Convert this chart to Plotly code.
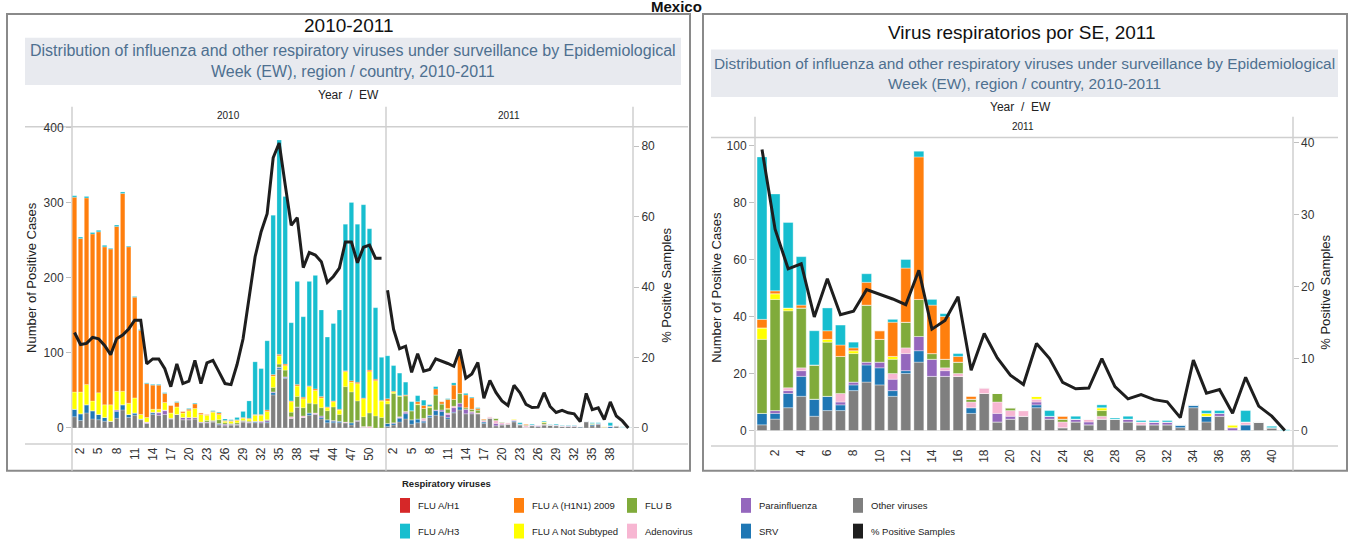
import plotly.graph_objects as go

# ---------------- DATA ----------------
weeks_2010 = list(range(1, 53))
weeks_2011 = list(range(1, 42))

other_2010 = [15,10,20,12,11,9,9,13,24,14,17,11,6,18,17,18,12,18,11,11,12,7,7,8,4,3,4,4,8,7,7,7,7,44,78,66,13,28,14,17,18,12,7,7,7,7,4,9,1,0,0,0]
srv_2010 = [10,9,11,11,7,5,0,9,7,4,3,1,0,2,0,0,0,0,0,0,0,0,0,0,1,0,0,0,0,0,1,0,1,3,2,1,0,0,0,3,0,2,4,2,2,0,3,0,0,0,0,0]
para_2010 = [0,0,0,0,0,0,0,2,0,0,0,0,1,1,3,5,1,0,3,3,2,1,1,1,1,2,1,1,1,1,1,2,2,1,1,1,0,0,0,0,1,2,0,1,0,0,0,1,0,0,0,0]
adeno_2010 = [0,0,0,0,0,0,0,0,0,0,0,0,1,0,1,1,0,0,0,0,0,0,0,0,0,0,0,0,0,0,0,0,0,0,0,0,2,0,2,0,1,0,0,0,0,1,0,0,1,2,0,0]
flub_2010 = [0,0,0,0,0,0,0,0,0,0,0,0,0,0,0,0,0,0,0,0,0,0,2,1,5,2,1,2,1,1,0,0,1,6,4,9,6,14,11,13,12,11,12,18,9,47,41,26,13,18,16,14]
notsub_2010 = [23,29,27,13,29,17,22,25,18,15,20,6,6,4,4,10,7,10,6,9,12,10,7,11,7,2,3,3,3,3,8,8,11,15,11,6,14,14,12,22,18,13,4,7,6,20,13,23,24,55,47,22]
h1_2010 = [0]*52
h1n1_2010 = [259,204,248,222,214,210,207,219,263,208,134,112,45,32,32,12,10,6,2,2,6,2,1,1,2,1,1,1,1,1,1,1,2,2,2,2,1,2,2,1,2,2,1,1,1,1,2,2,1,2,2,1]
h3_2010 = [2,2,2,2,2,2,1,2,2,1,1,1,1,1,1,1,0,1,0,1,1,0,0,1,1,2,1,3,8,23,70,61,92,212,285,223,104,137,107,139,151,115,93,103,132,195,237,210,257,188,95,57]
pct_2010 = [27.1,23.7,24.0,25.7,25.3,23.4,20.8,25.3,26.4,28.1,30.6,30.6,18.2,19.6,19.6,16.8,11.7,18.2,12.6,13.3,19.2,12.6,18.5,19.2,15.9,12.6,12.3,18.0,25.3,37.4,48.6,55.7,60.8,76.7,80.9,69.0,57.5,59.7,45.5,49.8,49.1,47.2,41.3,43.0,45.4,52.8,52.8,46.9,51.3,51.9,48.2,48.2]

other_2011 = [2,4,8,12,5,7,7,14,17,16,12,20,24,19,19,19,6,13,3,4,5,8,4,1,3,2,4,4,3,2,2,2,1,8,3,5,0,0,3,1,0]
srv_2011 = [4,2,5,7,6,5,2,2,6,6,2,1,4,0,0,0,2,0,0,0,0,1,0,0,0,0,0,0,0,0,0,0,1,1,2,0,0,2,0,0,0]
para_2011 = [0,1,1,2,0,0,1,1,1,2,4,6,5,6,2,0,0,0,3,1,0,1,1,0,1,1,0,0,1,0,1,1,0,0,0,1,1,0,0,0,0]
adeno_2011 = [0,0,1,1,0,0,3,0,0,0,2,2,0,0,1,1,2,2,4,2,2,1,0,2,0,1,1,0,0,1,0,0,0,0,0,0,0,1,0,0,0]
flub_2011 = [26,39,27,21,12,19,13,10,20,8,5,9,13,2,3,4,1,0,3,1,0,0,0,1,0,0,2,0,0,0,0,0,0,0,0,0,0,0,0,0,0]
notsub_2011 = [4,2,1,0,0,1,0,1,0,0,1,0,0,0,0,0,0,0,0,0,0,1,0,0,0,0,1,0,0,0,0,0,0,0,1,0,1,0,0,0,0]
h1_2011 = [0]*41
h1n1_2011 = [3,1,0,1,0,3,4,1,8,3,12,19,50,17,15,2,1,0,0,0,0,0,0,1,0,0,0,0,0,0,0,0,0,0,0,0,0,0,0,0,0]
h3_2011 = [57,34,30,17,12,8,7,2,3,0,1,3,2,2,1,1,0,0,0,0,0,0,2,0,1,0,1,0.4,1,0.5,0.5,0.5,0,0,1,1,0,4,0,0.5,0.3]
pct_2011 = [39.1,28.0,22.5,23.2,15.8,21.1,16.1,16.6,19.6,19.0,18.3,17.5,22.3,14.1,15.3,18.6,8.4,13.5,10.1,7.7,6.4,12.1,10.0,6.7,5.8,5.9,10.0,6.1,4.4,5.0,4.3,4.0,1.8,9.8,5.2,5.7,2.4,7.4,3.4,2.0,0.0]

ticks_left_2010 = list(range(2, 51, 3))
ticks_left_2011 = list(range(2, 39, 3))
ticks_right_2011 = list(range(2, 41, 2))

# stacking order bottom -> top
series = [
    ("Other viruses", other_2010, other_2011, "#7f7f7f"),
    ("SRV", srv_2010, srv_2011, "#1f77b4"),
    ("Parainfluenza", para_2010, para_2011, "#9467bd"),
    ("Adenovirus", adeno_2010, adeno_2011, "#f7b6d2"),
    ("FLU B", flub_2010, flub_2011, "#80ab3b"),
    ("FLU A Not Subtyped", notsub_2010, notsub_2011, "#ffff00"),
    ("FLU A/H1", h1_2010, h1_2011, "#d62728"),
    ("FLU A (H1N1) 2009", h1n1_2010, h1n1_2011, "#ff7f0e"),
    ("FLU A/H3", h3_2010, h3_2011, "#17becf"),
]
line_name = "% Positive Samples"
line_color = "#1e1e1e"

legend_rows = [
    ["FLU A/H1", "FLU A (H1N1) 2009", "FLU B", "Parainfluenza", "Other viruses"],
    ["FLU A/H3", "FLU A Not Subtyped", "Adenovirus", "SRV", "% Positive Samples"],
]

# ---------------- FIGURE ----------------
W, H = 1355, 540
def X(p): return p / W
def Y(p): return 1 - p / H

FONT = "Liberation Sans, Arial, sans-serif"

x_left = weeks_2010 + [52 + w for w in weeks_2011]

fig = go.Figure()
for name, v10, v11, col in series:
    fig.add_trace(go.Bar(x=x_left, y=v10 + v11, name=name, width=0.74,
                         marker=dict(color=col, line=dict(color="rgba(255,255,255,0.55)", width=0.4)),
                         xaxis="x", yaxis="y", showlegend=False))
    fig.add_trace(go.Bar(x=weeks_2011, y=v11, name=name, width=0.76,
                         marker=dict(color=col, line=dict(color="rgba(255,255,255,0.6)", width=0.6)),
                         xaxis="x2", yaxis="y3", showlegend=False))

fig.add_trace(go.Scatter(x=weeks_2010 + [None] + [52 + w for w in weeks_2011],
                         y=pct_2010 + [None] + pct_2011, mode="lines", name=line_name,
                         line=dict(color=line_color, width=3), xaxis="x", yaxis="y2",
                         showlegend=False, connectgaps=False))
fig.add_trace(go.Scatter(x=weeks_2011, y=pct_2011, mode="lines", name=line_name,
                         line=dict(color=line_color, width=3), xaxis="x2", yaxis="y4",
                         showlegend=False))

tick_font = dict(family=FONT, size=12, color="#333")

left_tickvals = ticks_left_2010 + [52 + w for w in ticks_left_2011]
left_ticktext = [str(w) for w in ticks_left_2010] + [str(w) for w in ticks_left_2011]

fig.update_layout(
    width=W, height=H, margin=dict(l=0, r=0, t=0, b=0),
    paper_bgcolor="white", plot_bgcolor="rgba(0,0,0,0)",
    barmode="relative", showlegend=False,
    font=dict(family=FONT, color="#333"),
    xaxis=dict(domain=[X(72), X(633)], range=[0.585, 93.77], anchor="y",
               tickmode="array", tickvals=left_tickvals, ticktext=left_ticktext,
               tickangle=-90, tickfont=tick_font, showgrid=False, zeroline=False,
               showline=False, ticks=""),
    yaxis=dict(domain=[Y(443), Y(122.3)], range=[-21.4, 400.5], anchor="x",
               tickvals=[0, 100, 200, 300, 400], tickfont=tick_font,
               ticks="outside", ticklen=5, tickcolor="#c0c0c0", showgrid=False,
               zeroline=True, zerolinecolor="#e2e2e2", zerolinewidth=1, showline=False),
    yaxis2=dict(overlaying="y", side="right", anchor="x", range=[-4.58, 85.45],
                tickvals=[0, 20, 40, 60, 80], tickfont=tick_font,
                ticks="outside", ticklen=5, tickcolor="#c0c0c0",
                showgrid=False, zeroline=False, showline=False),
    xaxis2=dict(domain=[X(755), X(1292.7)], range=[0.464, 41.6], anchor="y3",
                tickmode="array", tickvals=ticks_right_2011,
                ticktext=[str(w) for w in ticks_right_2011],
                tickangle=-90, tickfont=tick_font, showgrid=False, zeroline=False,
                showline=False, ticks=""),
    yaxis3=dict(domain=[Y(445), Y(132.7)], range=[-5.45, 102.9], anchor="x2",
                tickvals=[0, 20, 40, 60, 80, 100], tickfont=tick_font,
                ticks="outside", ticklen=5, tickcolor="#c0c0c0", showgrid=False,
                zeroline=True, zerolinecolor="#e2e2e2", zerolinewidth=1, showline=False),
    yaxis4=dict(overlaying="y3", side="right", anchor="x2", range=[-2.16, 40.8],
                tickvals=[0, 10, 20, 30, 40], tickfont=tick_font,
                ticks="outside", ticklen=5, tickcolor="#c0c0c0",
                showgrid=False, zeroline=False, showline=False),
)

shapes = []
def rect(x0, y0, x1, y1, fill=None, line=None, width=0):
    shapes.append(dict(type="rect", xref="paper", yref="paper",
                       x0=X(x0), x1=X(x1), y0=Y(y1), y1=Y(y0),
                       fillcolor=fill if fill else "rgba(0,0,0,0)",
                       line=dict(color=line if line else "rgba(0,0,0,0)", width=width),
                       layer="below"))
def seg(x0, y0, x1, y1, color="#cfcfcf", width=1.5):
    shapes.append(dict(type="line", xref="paper", yref="paper",
                       x0=X(x0), x1=X(x1), y0=Y(y0), y1=Y(y1),
                       line=dict(color=color, width=width), layer="below"))

# panel borders
rect(7, 8, 690, 470, line="#8a8a8a", width=2)
rect(703, 8, 1347, 470, line="#8a8a8a", width=2)
# subtitle bands
rect(25, 32, 681, 80, fill="#e8eaef")
rect(711, 44, 1338, 92, fill="#e8eaef")
# left panel grid lines
seg(25, 122, 688, 122)
seg(25, 443, 688, 443)
for xv in (72, 386, 633):
    seg(xv, 102, xv, 470)
# right panel grid lines
seg(711, 133, 1338, 133)
seg(711, 445, 1338, 445)
for xv in (755, 1293):
    seg(xv, 112, xv, 470)

# legend swatches
leg_colors = {name: col for name, _, _, col in series}
leg_colors[line_name] = line_color
sw_x = [400, 514, 627, 741, 853]
row_y = [505, 531]
annotations = []
for r, row in enumerate(legend_rows):
    for c, name in enumerate(row):
        rect(sw_x[c], row_y[r] - 7.5, sw_x[c] + 10, row_y[r] + 7.5, fill=leg_colors[name])
        annotations.append(dict(xref="paper", yref="paper", x=X(sw_x[c] + 16), y=Y(row_y[r]),
                                text=name, showarrow=False, xanchor="left", yanchor="middle",
                                font=dict(family=FONT, size=9.5, color="#222")))

def ann(x, y, text, size, color="#222", angle=0, xanchor="center"):
    annotations.append(dict(xref="paper", yref="paper", x=X(x), y=Y(y), text=text,
                            showarrow=False, xanchor=xanchor, yanchor="middle",
                            textangle=angle, font=dict(family=FONT, size=size, color=color)))

subtitle = ("Distribution of influenza and other respiratory viruses under surveillance by Epidemiological"
            "<br>Week (EW), region / country, 2010-2011")
ann(676, 1, "<b>Mexico</b>", 15, color="#111")
ann(348, 20, "2010-2011", 19, color="#111")
ann(353, 56, subtitle, 16, color="#4e7090")
ann(348, 90, "Year  /  EW", 12)
ann(229, 111, "2010", 10)
ann(509, 111, "2011", 10)
ann(32, 275, "Number of Positive Cases", 13, angle=-90)
ann(667, 283, "% Positive Samples", 13, angle=-90)

ann(1022, 27, "Virus respiratorios por SE, 2011", 19, color="#111")
ann(1024, 68, subtitle, 15.4, color="#4e7090")
ann(1020, 102, "Year  /  EW", 12)
ann(1023, 122, "2011", 10)
ann(717, 285, "Number of Positive Cases", 13, angle=-90)
ann(1326, 290, "% Positive Samples", 13, angle=-90)

ann(400, 483, "<b>Respiratory viruses</b>", 9.5, xanchor="left")

fig.update_layout(shapes=shapes, annotations=annotations)
fig.write_html("out.html", config={"displayModeBar": False},
               post_script="document.body.style.margin='0';document.body.style.overflow='hidden';")
